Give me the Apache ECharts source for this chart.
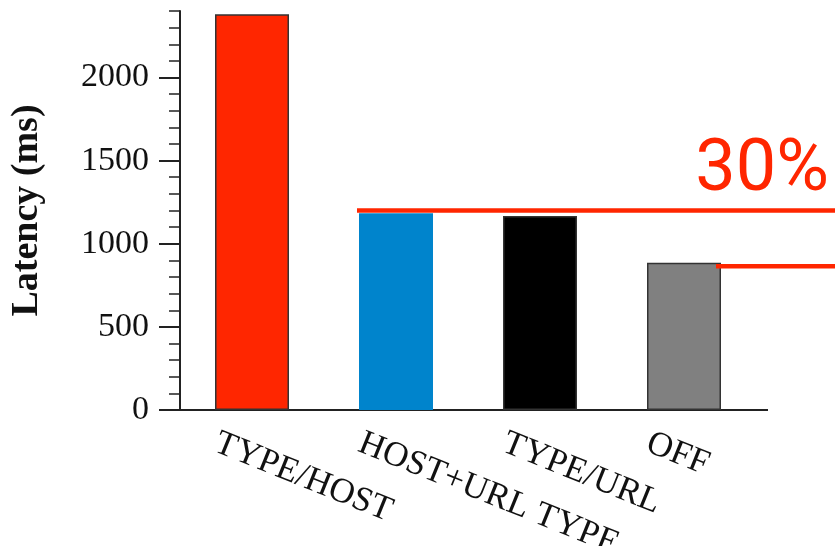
<!DOCTYPE html>
<html>
<head>
<meta charset="utf-8">
<script src="https://cdn.jsdelivr.net/npm/echarts@6/dist/echarts.min.js"></script>
<style>html,body{margin:0;padding:0;background:#fff}#c{width:835px;height:546px}</style>
</head>
<body>
<div id="c"></div>
<script>
const categories = ['TYPE/HOST', 'HOST+URL TYPE', 'TYPE/URL', 'OFF'];
const latency = [2380, 1183, 1167, 886];
const barColors = ['#FF2600', '#0084CC', '#000000', '#808080'];
const yLabelValues = [0, 500, 1000, 1500, 2000];
const refLines = [1200, 864];
const annotationText = '30%';

const chart = echarts.init(document.getElementById('c'), null, {renderer: 'canvas'});
const serif = '"Liberation Serif", "Times New Roman", serif';
const axisColor = '#222';

chart.setOption({
  animation: false,
  backgroundColor: '#fff',
  grid: [
    {left: 180, top: 11, width: 576, height: 399, outerBoundsMode: 'none', containLabel: false},
    {left: 144, top: 11, width: 576, height: 399, outerBoundsMode: 'none', containLabel: false}
  ],
  xAxis: [
    {
      gridIndex: 0, type: 'category', data: categories,
      axisLine: {show: true, lineStyle: {color: axisColor, width: 2}},
      axisTick: {show: false}, axisLabel: {show: false}, splitLine: {show: false}
    },
    {
      gridIndex: 1, type: 'category', data: categories,
      axisLine: {show: false}, axisTick: {show: false}, splitLine: {show: false},
      axisLabel: {rotate: -22, margin: 32, fontFamily: serif, fontSize: 35, color: '#111', interval: 0}
    }
  ],
  yAxis: [
    {
      gridIndex: 0, type: 'value', position: 'left', min: 0, max: 2400, interval: 100,
      axisLine: {show: true, lineStyle: {color: axisColor, width: 2}},
      axisTick: {show: true, length: 11, lineStyle: {color: axisColor, width: 1.5}},
      axisLabel: {customValues: yLabelValues, formatter: v => String(v), margin: 31, fontFamily: serif, fontSize: 34, color: '#111'},
      splitLine: {show: false},
      name: 'Latency (ms)', nameLocation: 'middle', nameGap: 134,
      nameTextStyle: {fontFamily: serif, fontSize: 38, fontWeight: 'bold', color: '#111'}
    },
    {
      gridIndex: 0, type: 'value', position: 'left', min: 0, max: 2400, interval: 500,
      axisLine: {show: false},
      axisTick: {show: true, customValues: yLabelValues, length: 21, lineStyle: {color: axisColor, width: 2}},
      axisLabel: {show: false}, splitLine: {show: false}
    },
    {gridIndex: 1, type: 'value', show: false, min: 0, max: 2400}
  ],
  series: [{
    type: 'bar', xAxisIndex: 0, yAxisIndex: 0, barWidth: 74,
    data: latency.map((v, i) => ({
      value: v,
      itemStyle: {color: barColors[i], borderColor: '#333', borderWidth: i === 1 ? 0 : 1.5}
    }))
  }]
});

const yPix = v => chart.convertToPixel({yAxisIndex: 0}, v);
const red = '#FF2600';
chart.setOption({
  graphic: [
    {type: 'line', shape: {x1: 755, y1: yPix(0), x2: 768, y2: yPix(0)}, style: {stroke: axisColor, lineWidth: 2}},
    {type: 'line', shape: {x1: 357, y1: yPix(refLines[0]), x2: 835, y2: yPix(refLines[0])}, style: {stroke: red, lineWidth: 4.5}, z: 10},
    {type: 'line', shape: {x1: 716, y1: yPix(refLines[1]), x2: 835, y2: yPix(refLines[1])}, style: {stroke: red, lineWidth: 4.5}, z: 10},
    {type: 'text', x: 829, y: 172, z: 10,
     style: {text: annotationText, fill: red, font: '72px Roboto, "Open Sans", sans-serif', textAlign: 'right', textVerticalAlign: 'middle'}}
  ]
});
</script>
</body>
</html>
